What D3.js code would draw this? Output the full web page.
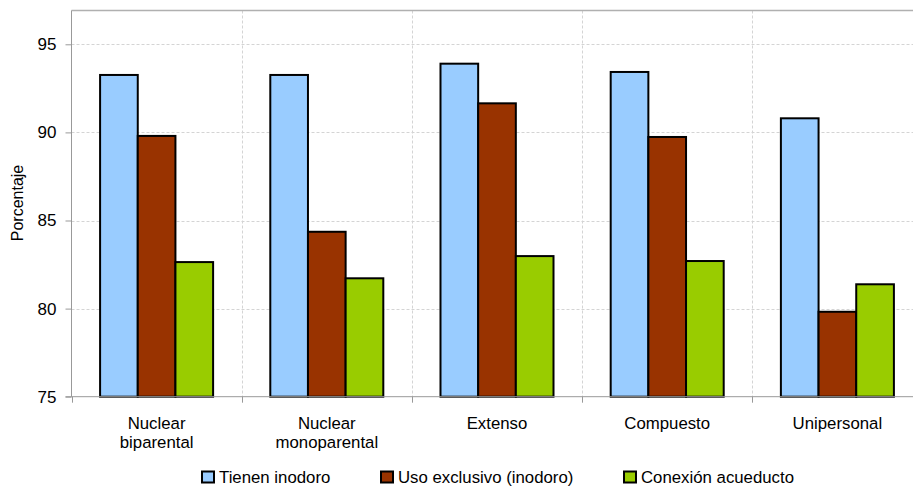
<!DOCTYPE html>
<html>
<head>
<meta charset="utf-8">
<script src="https://cdn.jsdelivr.net/npm/d3@7"></script>
<style>
  html, body { margin: 0; padding: 0; background: #fff; }
  svg { display: block; font-family: "Liberation Sans", Arial, sans-serif; }
</style>
</head>
<body>
<svg id="chart" width="913" height="486"></svg>
<script>
const categories = [["Nuclear", "biparental"], ["Nuclear", "monoparental"], ["Extenso"], ["Compuesto"], ["Unipersonal"]];
const seriesNames = ["Tienen inodoro", "Uso exclusivo (inodoro)", "Conexión acueducto"];
const tienenInodoro = [93.26, 93.26, 93.9, 93.43, 90.8];
const usoExclusivo = [89.8, 84.36, 91.65, 89.74, 79.82];
const conexionAcueducto = [82.64, 81.72, 82.98, 82.7, 81.38];
const yTicks = [75, 80, 85, 90, 95];
const colors = ["#99CCFF", "#993300", "#99CC00"];

const seriesValues = [tienenInodoro, usoExclusivo, conexionAcueducto];
const catKeys = categories.map(c => c.join(" "));

const svg = d3.select("#chart");
const plotLeft = 71.5, plotRight = 922.5, plotTop = 10.5, plotBottom = 396.7;
const labelFont = 16.8;

const x0 = d3.scaleBand().domain(catKeys).range([plotLeft, plotRight]).padding(0);
const inset = x0.bandwidth() * 0.168;
const x1 = d3.scaleBand().domain(seriesNames).range([inset, x0.bandwidth() - inset]).padding(0);
const y = d3.scaleLinear().domain([75, 95]).range([plotBottom, 44.3]);

// horizontal gridlines
svg.append("g").selectAll("line").data(yTicks.slice(1)).join("line")
  .attr("x1", plotLeft).attr("x2", plotRight)
  .attr("y1", d => Math.round(y(d)) + 0.5).attr("y2", d => Math.round(y(d)) + 0.5)
  .attr("stroke", "#d4d4d4").attr("stroke-width", 1).attr("stroke-dasharray", "3,2");

// vertical gridlines at category boundaries
svg.append("g").selectAll("line").data(catKeys.slice(1)).join("line")
  .attr("x1", d => Math.round(x0(d)) + 0.5).attr("x2", d => Math.round(x0(d)) + 0.5)
  .attr("y1", plotTop).attr("y2", plotBottom)
  .attr("stroke", "#d4d4d4").attr("stroke-width", 1).attr("stroke-dasharray", "3,2");

// top border
svg.append("line").attr("x1", plotLeft).attr("x2", 913).attr("y1", plotTop).attr("y2", plotTop)
  .attr("stroke", "#b0b0b0").attr("stroke-width", 1.5);

// bars
const groups = svg.append("g").selectAll("g").data(catKeys).join("g")
  .attr("transform", d => `translate(${x0(d)},0)`);
groups.selectAll("rect").data((d, i) => seriesNames.map((s, j) => ({ s, j, v: seriesValues[j][i] })))
  .join("rect")
  .attr("x", d => x1(d.s))
  .attr("width", x1.bandwidth())
  .attr("y", d => y(d.v))
  .attr("height", d => plotBottom - y(d.v))
  .attr("fill", d => colors[d.j])
  .attr("stroke", "#000").attr("stroke-width", 2);

// y axis
const yAxis = d3.axisLeft(y).tickValues(yTicks).tickSize(6).tickPadding(9).tickFormat(d3.format("d"));
const gy = svg.append("g").attr("transform", `translate(${plotLeft},0)`).call(yAxis);
gy.select(".domain").attr("stroke", "#999").attr("d", `M0,${plotTop}V${plotBottom}`);
gy.selectAll(".tick line").attr("stroke", "#999");
gy.selectAll(".tick text").attr("font-size", 17).attr("fill", "#000").attr("font-family", "Liberation Sans, Arial, sans-serif");

// x axis line and ticks at boundaries
svg.append("line").attr("x1", plotLeft - 6).attr("x2", 913).attr("y1", plotBottom).attr("y2", plotBottom)
  .attr("stroke", "#999").attr("stroke-width", 1);
svg.append("g").selectAll("line").data(catKeys).join("line")
  .attr("x1", d => Math.round(x0(d)) + 0.5).attr("x2", d => Math.round(x0(d)) + 0.5)
  .attr("y1", plotBottom).attr("y2", plotBottom + 6)
  .attr("stroke", "#999");

// category labels (one text per line)
const lineData = [];
categories.forEach((lines, i) => lines.forEach((t, k) => lineData.push({ t, k, key: catKeys[i] })));
svg.append("g").selectAll("text").data(lineData).join("text")
  .attr("x", d => x0(d.key) + x0.bandwidth() / 2)
  .attr("y", d => 428.5 + d.k * 19)
  .attr("text-anchor", "middle")
  .attr("font-size", labelFont).attr("fill", "#000")
  .text(d => d.t);

// y axis title
svg.append("text")
  .attr("transform", "translate(23,203) rotate(-90)")
  .attr("text-anchor", "middle")
  .attr("font-size", 16).attr("fill", "#000")
  .text("Porcentaje");

// legend
const legendX = [201, 380, 623];
const lg = svg.append("g").selectAll("g").data(seriesNames).join("g")
  .attr("transform", (d, i) => `translate(${legendX[i]},470.5)`);
lg.append("rect").attr("x", 1).attr("y", 1).attr("width", 12).attr("height", 11)
  .attr("fill", (d, i) => colors[i]).attr("stroke", "#000").attr("stroke-width", 2);
lg.append("text").attr("x", 18).attr("y", 12)
  .attr("font-size", labelFont).attr("fill", "#000")
  .text(d => d);
</script>
</body>
</html>
